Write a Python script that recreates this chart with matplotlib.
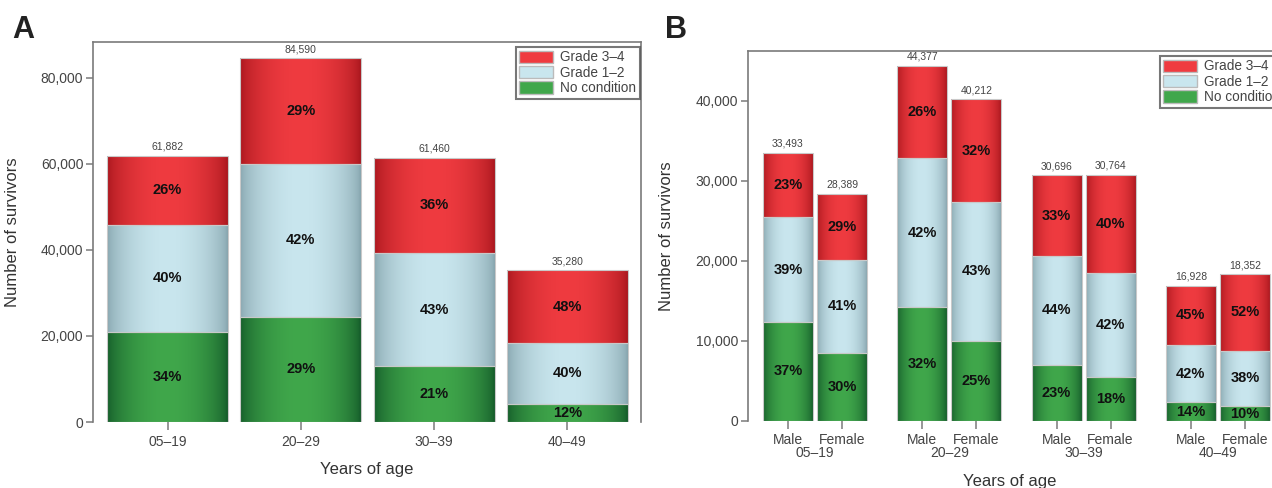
import numpy as np
import matplotlib
matplotlib.use('Agg')
import matplotlib.pyplot as plt
from matplotlib.patches import Patch
from matplotlib.colors import to_rgb
from matplotlib.ticker import FuncFormatter
import matplotlib.transforms as mtransforms

# ---------------- data ----------------
age_groups = ['05–19', '20–29', '30–39', '40–49']
legend_labels = ['Grade 3–4', 'Grade 1–2', 'No condition']

# Panel A (all survivors)
a_no_condition = [21040, 24531, 12907, 4234]
a_grade12 = [24753, 35528, 26428, 14112]
a_grade34 = [16089, 24531, 22125, 16934]
a_totals = [61882, 84590, 61460, 35280]
a_pct_no = [34, 29, 21, 12]
a_pct_g12 = [40, 42, 43, 40]
a_pct_g34 = [26, 29, 36, 48]

# Panel B (by sex)
sexes = ['Male', 'Female']
b_no_condition = [12392, 8517, 14201, 10053, 7060, 5538, 2370, 1835]
b_grade12 = [13062, 11639, 18638, 17291, 13506, 12921, 7110, 6974]
b_grade34 = [8039, 8233, 11538, 12868, 10130, 12305, 7448, 9543]
b_totals = [33493, 28389, 44377, 40212, 30696, 30764, 16928, 18352]
b_pct_no = [37, 30, 32, 25, 23, 18, 14, 10]
b_pct_g12 = [39, 41, 42, 43, 44, 42, 42, 38]
b_pct_g34 = [23, 29, 26, 32, 33, 40, 45, 52]

# ---------------- style ----------------
FONT = ['Liberation Sans', 'DejaVu Sans']
plt.rcParams['font.family'] = FONT
RED = ('#ef3b40', '#a8161d')
BLUE = ('#c9e6ee', '#86a5ae')
GREEN = ('#40a74b', '#135a29')
SPINE = '#7a7a7a'
TICKC = '#444444'


def gradient(light, dark, n=96):
    t = np.linspace(0, 1, n)
    w = np.sin(np.pi * t) ** 0.6
    l = np.array(to_rgb(light)); d = np.array(to_rgb(dark))
    g = d[None, :] + (l - d)[None, :] * w[:, None]
    return g[None, :, :]


def stacked(ax, x, width, series, colors, pcts, totals, pct_fs, tot_fs):
    bottom = np.zeros(len(x))
    for vals, col, pc in zip(series, colors, pcts):
        vals = np.asarray(vals, float)
        cont = ax.bar(x, vals, width, bottom=bottom, facecolor='none',
                      edgecolor='#c9c9c9', linewidth=0.8, zorder=3)
        grad = gradient(*col)
        for rect, p in zip(cont.patches, pc):
            x0, y0 = rect.get_x(), rect.get_y()
            w, h = rect.get_width(), rect.get_height()
            im = ax.imshow(grad, extent=[x0, x0 + w, y0, y0 + h], aspect='auto',
                           origin='lower', interpolation='bilinear', zorder=2)
            im.set_clip_path(rect)
            ax.text(x0 + w / 2, y0 + h / 2, f'{p}%', ha='center', va='center',
                    fontsize=pct_fs, fontweight='bold', color='#111111', zorder=4)
        bottom = bottom + vals
    for xi, t in zip(x, totals):
        ax.annotate(f'{t:,}', xy=(xi, t), xytext=(0, 3), textcoords='offset points',
                    ha='center', va='bottom', fontsize=tot_fs, color='#444444')


def style_axes(ax):
    for s in ['left', 'top', 'right']:
        ax.spines[s].set_color(SPINE)
        ax.spines[s].set_linewidth(1.2)
    ax.spines['bottom'].set_visible(False)
    ax.tick_params(axis='y', direction='out', length=5, width=1.1, color=SPINE,
                   labelsize=10, labelcolor=TICKC, pad=2)
    ax.tick_params(axis='x', direction='out', length=6, width=1.1, color=SPINE,
                   labelsize=10, labelcolor=TICKC, pad=3)
    ax.yaxis.set_major_formatter(FuncFormatter(lambda v, p: f'{int(v):,}'))


def add_legend(ax, anchor):
    handles = [Patch(facecolor=RED[0], edgecolor='#bbbbbb'),
               Patch(facecolor=BLUE[0], edgecolor='#bbbbbb'),
               Patch(facecolor=GREEN[0], edgecolor='#bbbbbb')]
    leg = ax.legend(handles, legend_labels, loc='upper left', bbox_to_anchor=anchor,
                    borderaxespad=0, fontsize=9.8, frameon=True, fancybox=False,
                    handlelength=2.5, handleheight=1.0, handletextpad=0.5,
                    labelspacing=0.1, borderpad=0.25, labelcolor='#444444')
    leg.get_frame().set_edgecolor('#555555')
    leg.get_frame().set_linewidth(1.5)
    leg.set_zorder(10)


W, H = 1272, 488
fig = plt.figure(figsize=(W / 100, H / 100), dpi=100)

# ---------------- Panel A ----------------
axA = fig.add_axes([93 / W, 1 - 422 / H, (641 - 93) / W, (422 - 42) / H])
xa = np.arange(len(age_groups))
stacked(axA, xa, 0.907, [a_no_condition, a_grade12, a_grade34], [GREEN, BLUE, RED],
        [a_pct_no, a_pct_g12, a_pct_g34], a_totals, 10.5, 7.5)
axA.set_xlim(-0.559, 3.552)
axA.set_ylim(0, 88370)
axA.set_yticks([0, 20000, 40000, 60000, 80000])
axA.set_xticks(xa)
axA.set_xticklabels(age_groups)
style_axes(axA)
axA.set_ylabel('Number of survivors', fontsize=12, color='#333333')
axA.yaxis.set_label_coords(-0.133, 0.5)
axA.set_xlabel('Years of age', fontsize=12, color='#333333')
axA.xaxis.set_label_coords(0.5, -0.105)
add_legend(axA, ((516 - 93) / 548, (422 - 47) / 380))
fig.text(12 / W, 1 - 30 / H, 'A', fontsize=22, fontweight='bold', va='center', ha='left',
         color='#222222')

# ---------------- Panel B ----------------
axB = fig.add_axes([748 / W, 1 - 421 / H, (1290 - 748) / W, (421 - 51) / H])
groups = np.arange(len(age_groups))
xb = []
for g in groups:
    xb += [g - 0.201, g + 0.201]
xb = np.array(xb)
stacked(axB, xb, 0.372, [b_no_condition, b_grade12, b_grade34], [GREEN, BLUE, RED],
        [b_pct_no, b_pct_g12, b_pct_g34], b_totals, 10.5, 7.5)
axB.set_xlim(-0.499, 3.537)
axB.set_ylim(0, 46250)
axB.set_yticks([0, 10000, 20000, 30000, 40000])
axB.set_xticks(xb)
axB.set_xticklabels(sexes * len(age_groups))
style_axes(axB)
axB.spines['right'].set_visible(False)
trans = mtransforms.blended_transform_factory(axB.transData, axB.transAxes)
for g, lab in zip(groups, age_groups):
    axB.text(g, -0.086, lab, transform=trans, ha='center', va='center',
             fontsize=10, color=TICKC)
axB.set_ylabel('Number of survivors', fontsize=12, color='#333333')
axB.yaxis.set_label_coords(-0.137, 0.5)
axB.set_xlabel('Years of age', fontsize=12, color='#333333')
axB.xaxis.set_label_coords(0.483, -0.142)
add_legend(axB, ((1160 - 748) / 542, (421 - 56) / 370))
fig.text(665 / W, 1 - 30 / H, 'B', fontsize=22, fontweight='bold', va='center', ha='left',
         color='#222222')

fig.savefig('out.png', dpi=100)
